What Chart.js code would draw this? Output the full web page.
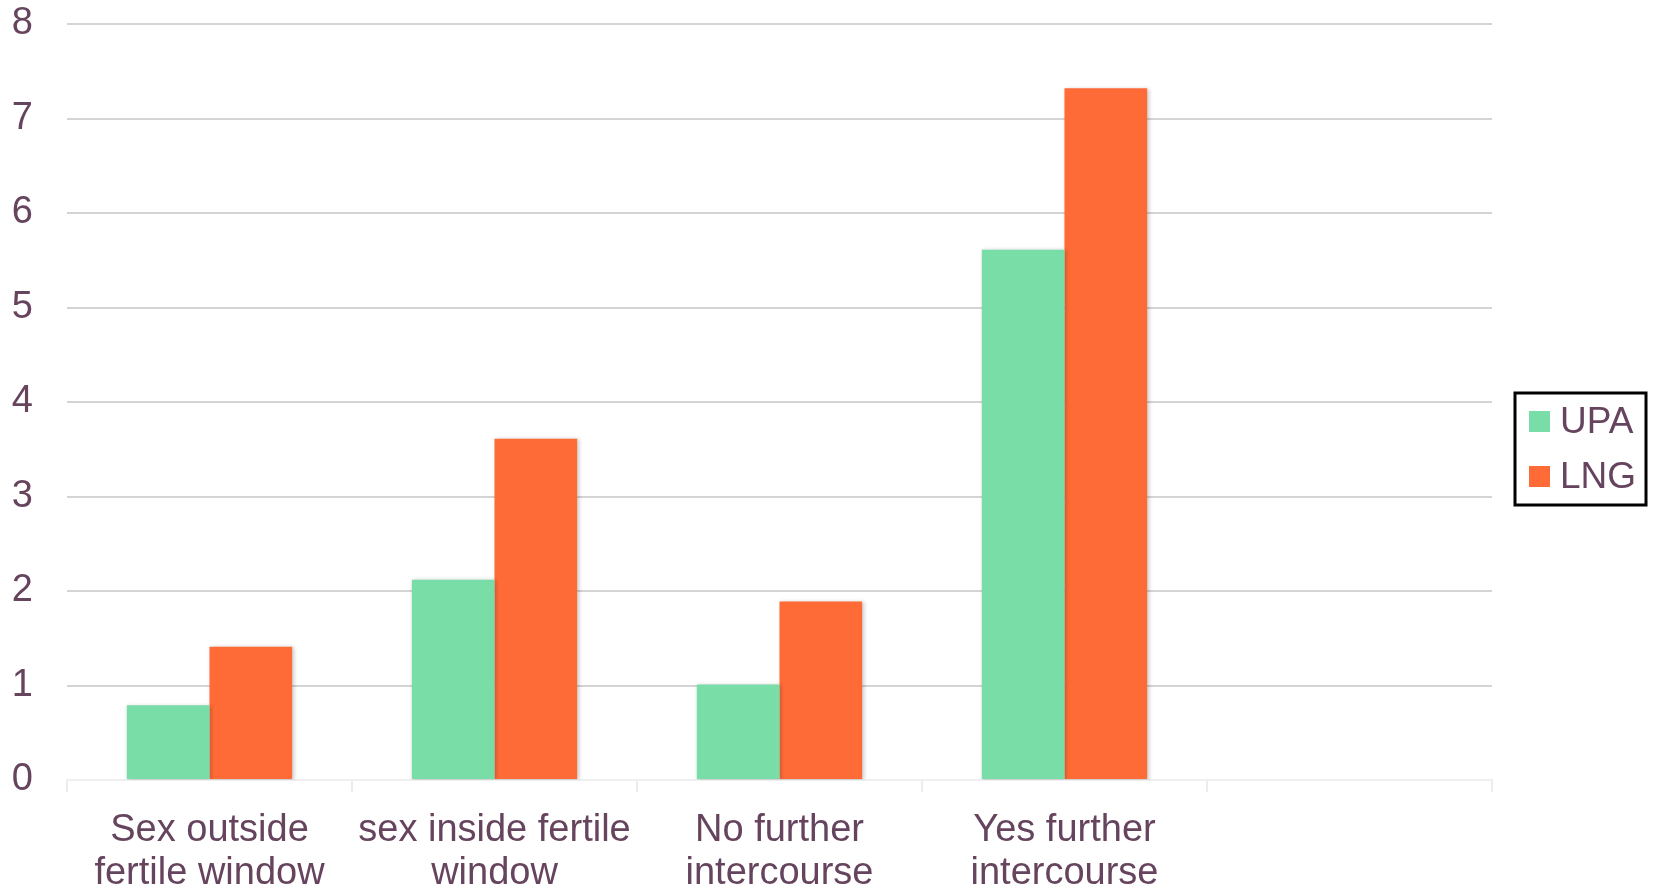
<!DOCTYPE html>
<html>
<head>
<meta charset="utf-8">
<script src="https://cdn.jsdelivr.net/npm/chart.js@4/dist/chart.umd.min.js"></script>
<style>
  html, body { margin: 0; padding: 0; background: #ffffff; }
  #wrap { width: 1659px; height: 890px; position: relative; }
</style>
</head>
<body>
<div id="wrap"><canvas id="chart"></canvas></div>
<script>
// Categories (the last slot is left empty on the axis)
const categories = [
  ['Sex outside', 'fertile window'],
  ['sex inside fertile', 'window'],
  ['No further', 'intercourse'],
  ['Yes further', 'intercourse'],
  ''
];
const seriesNames = ['UPA', 'LNG'];
const upaValues = [0.79, 2.12, 1.01, 5.61, null];
const lngValues = [1.41, 3.61, 1.89, 7.32, null];
const yTicks = [0, 1, 2, 3, 4, 5, 6, 7, 8];

const TEXT = '#66445e';
const FONT = '"Liberation Sans", Arial, sans-serif';
const COLORS = ['#78dda7', '#ff6b37'];

// Soft drop shadow under the bars
const barShadow = {
  id: 'barShadow',
  beforeDatasetsDraw(chart) {
    const c = chart.ctx;
    c.save();
    c.shadowColor = 'rgba(0,0,0,0.22)';
    c.shadowBlur = 4;
    c.shadowOffsetX = 1.5;
    c.shadowOffsetY = 0.5;
  },
  afterDatasetsDraw(chart) {
    chart.ctx.restore();
  }
};

// Boxed legend on the right side
const boxedLegend = {
  id: 'boxedLegend',
  afterDraw(chart) {
    const c = chart.ctx;
    const area = chart.chartArea;
    const left = area.right + 23;
    const width = 131;
    const rowH = 55;
    const height = 112;
    const top = chart.height / 2 - 52;
    c.save();
    c.fillStyle = '#ffffff';
    c.fillRect(left, top, width, height);
    c.strokeStyle = '#000000';
    c.lineWidth = 3;
    c.strokeRect(left, top, width, height);
    c.font = '37px ' + FONT;
    c.textAlign = 'left';
    c.textBaseline = 'alphabetic';
    chart.data.datasets.forEach((ds, i) => {
      const boxTop = top + 18 + i * rowH;
      c.fillStyle = ds.backgroundColor;
      c.fillRect(left + 14, boxTop, 21, 21);
      c.fillStyle = TEXT;
      c.fillText(ds.label, left + 45, boxTop + 22);
    });
    c.restore();
  }
};

new Chart(document.getElementById('chart'), {
  type: 'bar',
  data: {
    labels: categories,
    datasets: [
      { label: seriesNames[0], data: upaValues, backgroundColor: COLORS[0] },
      { label: seriesNames[1], data: lngValues, backgroundColor: COLORS[1] }
    ]
  },
  options: {
    responsive: true,
    maintainAspectRatio: false,
    animation: false,
    devicePixelRatio: 1,
    layout: { padding: { top: 24, right: 167, bottom: 0, left: 0 } },
    datasets: { bar: { barPercentage: 1.0, categoryPercentage: 0.58, borderWidth: 0 } },
    plugins: {
      legend: { display: false },
      tooltip: { enabled: false }
    },
    scales: {
      x: {
        offset: true,
        grid: {
          offset: true,
          drawOnChartArea: false,
          drawTicks: true,
          tickLength: 12,
          color: '#ececec',
          lineWidth: 2
        },
        border: { display: true, color: '#efefef', width: 2 },
        ticks: {
          color: TEXT,
          font: { family: FONT, size: 38, lineHeight: 1.13 },
          padding: 17,
          maxRotation: 0,
          autoSkip: false
        },
        afterFit(scale) {
          scale.height = 110;
          scale.paddingLeft = 0;
          scale.paddingRight = 0;
        }
      },
      y: {
        min: yTicks[0],
        max: yTicks[yTicks.length - 1],
        afterBuildTicks(scale) { scale.ticks = yTicks.map(v => ({ value: v })); },
        grid: {
          drawTicks: false,
          lineWidth: 2,
          color: ctx => (ctx.tick && ctx.tick.value === 0) ? 'rgba(0,0,0,0)' : '#d4d4d4'
        },
        border: { display: false },
        ticks: {
          color: TEXT,
          font: { family: FONT, size: 38 },
          padding: 34
        },
        afterFit(scale) {
          scale.width = 67;
          scale.paddingTop = 0;
          scale.paddingBottom = 0;
        }
      }
    }
  },
  plugins: [barShadow, boxedLegend]
});
</script>
</body>
</html>
